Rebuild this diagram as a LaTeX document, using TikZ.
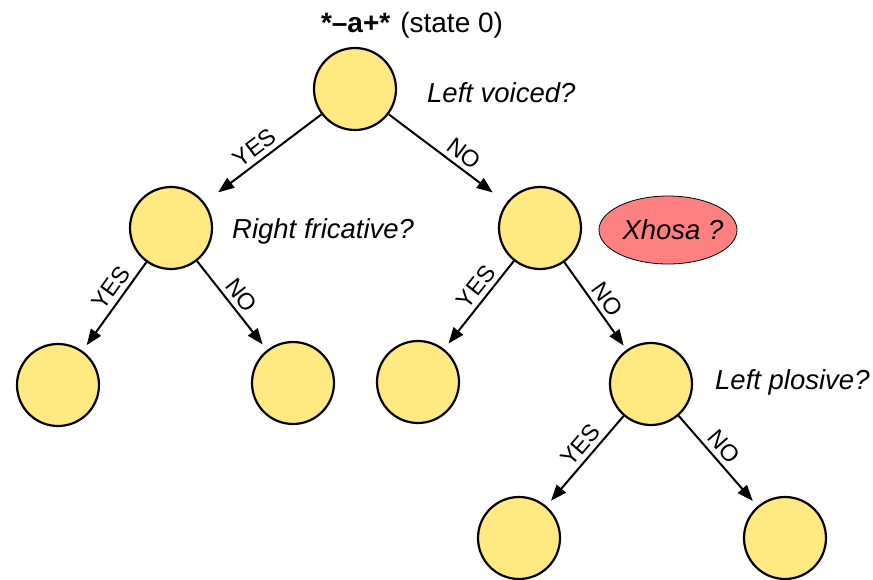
\documentclass[tikz,border=0pt]{standalone}
\usepackage{fontspec}
\setmainfont{Liberation Sans}
\usetikzlibrary{arrows.meta,shapes.geometric}
\definecolor{nodeyellow}{RGB}{255,233,128}
\definecolor{xhosared}{RGB}{255,128,128}
\begin{document}
\begin{tikzpicture}[x=1pt,y=-1pt,
  state/.style={circle, draw=black, line width=2.2pt, fill=nodeyellow, minimum size=82pt, inner sep=0pt},
  branch/.style={line width=2pt, -{Triangle[length=16pt,width=12pt]}, shorten >=7pt},
  lbl/.style={font=\fontsize{23.5}{26}\selectfont, sloped, above, inner sep=4.5pt},
  question/.style={font=\fontsize{27.5}{30}\selectfont\itshape, anchor=base west, inner sep=0pt}]
\useasboundingbox (0,0) rectangle (873,579);

\node[anchor=base, inner sep=0pt, font=\fontsize{28}{30}\selectfont] (title) at (412,32) {\textbf{*–a+*}\hspace{10pt}(state 0)};

\node[state] (root) at (355,89) {};
\node[state] (lc) at (171,228) {};
\node[state] (rc) at (540,228) {};
\node[state] (ll) at (58,385) {};
\node[state] (lr) at (293,383) {};
\node[state] (rl) at (418,382) {};
\node[state] (rr) at (651,384) {};
\node[state] (rrl) at (519,538) {};
\node[state] (rrr) at (785,538) {};

\node[ellipse, draw=black, line width=0.8pt, fill=xhosared, minimum width=138pt, minimum height=68pt, inner sep=0pt,
      font=\fontsize{27.5}{30}\selectfont\itshape] (xhosa) at (668,230) {\makebox[60pt]{\hspace{10pt}Xhosa ?}};

\node[question] (q1) at (427,102) {Left voiced?};
\node[question] (q2) at (232,238) {Right fricative?};
\node[question] (q3) at (715,389) {Left plosive?};

\draw[branch, shorten >=17pt] (root) -- node[lbl, pos=0.5] {YES} (lc);
\draw[branch, shorten >=17pt] (root) -- node[lbl, pos=0.57] {NO} (rc);
\draw[branch] (lc) -- node[lbl, pos=0.38] {YES} (ll);
\draw[branch] (lc) -- node[lbl, pos=0.48] {NO} (lr);
\draw[branch] (rc) -- node[lbl, pos=0.39] {YES} (rl);
\draw[branch, shorten >=5pt] (rc) -- node[lbl, pos=0.51] {NO} (rr);
\draw[branch] (rr) -- node[lbl, pos=0.42] {YES} (rrl);
\draw[branch] (rr) -- node[lbl, pos=0.44] {NO} (rrr);
\end{tikzpicture}
\end{document}
